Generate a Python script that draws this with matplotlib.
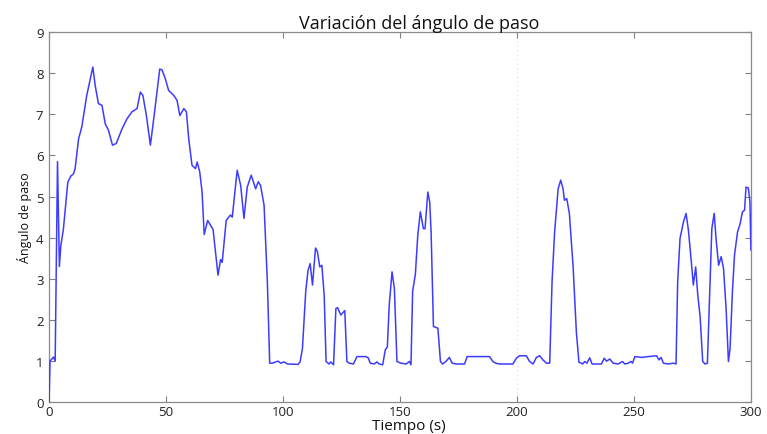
import matplotlib
matplotlib.use("Agg")
import matplotlib.pyplot as plt

# datos
tiempo = [
    0.0, 0.4, 1.9, 2.6, 3.6, 4.4, 5.0, 6.1, 8.0, 9.3,
    10.4, 11.1, 12.6, 14.0, 16.1, 18.7, 19.7, 21.1, 22.6, 24.0,
    25.4, 27.1, 28.7, 31.2, 33.3, 35.4, 37.6, 39.0, 40.1, 41.6,
    43.3, 45.1, 47.3, 48.3, 49.7, 51.1, 53.3, 54.7, 55.9, 57.6,
    58.7, 59.7, 61.1, 62.6, 63.3, 64.4, 65.4, 66.3, 67.8, 70.1,
    72.2, 73.3, 74.0, 75.7, 77.5, 78.3, 80.4, 81.9, 83.3, 84.7,
    86.4, 88.3, 89.4, 90.4, 91.9, 93.3, 94.3, 95.4, 97.9, 99.0,
    100.4, 101.9, 106.4, 107.3, 108.3, 109.7, 110.7, 111.6, 112.6, 113.9,
    114.7, 115.7, 116.6, 117.6, 118.4, 119.7, 120.4, 121.6, 122.6, 123.3,
    124.7, 125.9, 126.4, 127.3, 128.3, 130.1, 131.6, 135.4, 136.4, 137.3,
    139.0, 140.1, 141.1, 142.6, 143.7, 144.6, 145.4, 146.6, 147.6, 148.7,
    150.4, 152.6, 154.0, 154.7, 155.4, 156.6, 157.6, 158.7, 160.0, 160.7,
    161.9, 162.7, 163.3, 164.3, 166.2, 167.3, 168.2, 169.6, 171.1, 172.3,
    174.0, 177.6, 178.7, 183.3, 188.3, 189.7, 190.9, 192.6, 198.3, 199.7,
    201.1, 204.0, 205.4, 206.9, 208.3, 209.7, 211.1, 212.6, 214.0, 215.0,
    216.1, 217.6, 218.7, 219.7, 220.3, 221.3, 222.4, 224.0, 225.4, 226.5,
    227.5, 228.0, 229.0, 229.9, 231.1, 232.1, 236.1, 237.3, 238.3, 239.7,
    241.1, 243.3, 245.1, 246.1, 247.6, 248.7, 249.4, 250.4, 253.3, 256.1,
    259.7, 260.7, 261.6, 262.6, 264.7, 266.9, 268.0, 268.7, 269.7, 271.2,
    272.3, 273.3, 274.4, 275.4, 276.4, 277.3, 278.3, 279.4, 280.4, 281.4,
    282.3, 283.3, 284.3, 285.1, 286.2, 287.3, 288.3, 289.4, 290.4, 291.1,
    292.1, 293.0, 294.3, 295.4, 296.4, 297.3, 297.9, 298.9, 299.6, 300.0,
]
angulo = [
    0.0, 1.0, 1.1, 1.0, 5.85, 3.3, 3.8, 4.2, 5.35, 5.5,
    5.55, 5.67, 6.4, 6.7, 7.46, 8.15, 7.7, 7.26, 7.22, 6.77,
    6.61, 6.25, 6.29, 6.65, 6.89, 7.06, 7.14, 7.54, 7.46, 6.97,
    6.25, 7.06, 8.1, 8.08, 7.86, 7.58, 7.46, 7.34, 6.97, 7.14,
    7.06, 6.4, 5.76, 5.68, 5.84, 5.6, 5.11, 4.08, 4.42, 4.2,
    3.09, 3.47, 3.4, 4.42, 4.55, 4.5, 5.64, 5.27, 4.47, 5.23,
    5.52, 5.19, 5.36, 5.27, 4.79, 2.93, 0.95, 0.95, 1.0, 0.95,
    0.98, 0.93, 0.92, 0.98, 1.31, 2.69, 3.21, 3.37, 2.85, 3.75,
    3.66, 3.29, 3.33, 2.6, 0.99, 0.93, 0.98, 0.91, 2.28, 2.3,
    2.12, 2.2, 2.23, 0.99, 0.95, 0.93, 1.11, 1.11, 1.08, 0.95,
    0.93, 0.98, 0.93, 0.91, 1.27, 1.35, 2.36, 3.17, 2.77, 0.99,
    0.95, 0.93, 0.99, 0.91, 2.69, 3.13, 4.06, 4.63, 4.22, 4.22,
    5.11, 4.87, 4.14, 1.84, 1.8, 0.99, 0.93, 0.99, 1.09, 0.95,
    0.93, 0.93, 1.11, 1.11, 1.11, 0.99, 0.95, 0.93, 0.93, 1.07,
    1.13, 1.13, 0.99, 0.93, 1.09, 1.13, 1.03, 0.95, 0.95, 2.93,
    4.14, 5.19, 5.4, 5.19, 4.91, 4.95, 4.59, 3.3, 1.7, 0.97,
    0.95, 0.93, 0.99, 0.95, 1.08, 0.93, 0.93, 1.07, 1.0, 1.05,
    0.95, 0.93, 0.99, 0.93, 0.95, 0.99, 0.95, 1.11, 1.09, 1.11,
    1.13, 1.03, 1.09, 0.95, 0.93, 0.95, 0.93, 2.93, 3.98, 4.39,
    4.59, 4.18, 3.5, 2.85, 3.29, 2.6, 2.08, 0.99, 0.93, 0.95,
    2.52, 4.22, 4.59, 3.98, 3.33, 3.54, 3.25, 2.28, 0.99, 1.31,
    2.69, 3.58, 4.14, 4.34, 4.63, 4.67, 5.23, 5.21, 4.87, 3.7,
]

x_ticks = [0, 50, 100, 150, 200, 250, 300]
y_ticks = list(range(10))
grid_x = 200  # línea tenue visible en el original

plt.rcParams["font.family"] = ["Open Sans", "DejaVu Sans"]

fig = plt.figure(figsize=(7.67, 4.35), dpi=100, facecolor="white")
ax = fig.add_axes([0.064, 0.073, 0.915, 0.851])

ax.axvline(grid_x, color="#d8d8d8", linestyle=(0, (1, 3)), linewidth=0.8, zorder=1)
ax.plot(tiempo, angulo, color="#3c3cff", linewidth=1.1, zorder=3)

ax.set_xlim(0, 300)
ax.set_ylim(0, 9)
ax.set_xticks(x_ticks)
ax.set_yticks(y_ticks)
ax.tick_params(direction="in", top=True, right=True, length=4, width=0.8,
               color="#808080", labelsize=9.5, labelcolor="#222222")
ax.tick_params(axis="x", pad=2)
ax.tick_params(axis="y", pad=4)
for sp in ax.spines.values():
    sp.set_color("#8a8a8a")
    sp.set_linewidth(0.9)

ax.set_title("Variación del ángulo de paso", fontsize=13, pad=3, x=0.528, color="#111111")
ax.set_xlabel("Tiempo (s)", fontsize=11, labelpad=0, x=0.513, color="#111111")
ax.set_ylabel("Ángulo de paso", fontsize=9, labelpad=3, color="#111111")

fig.savefig("out.png", dpi=100, facecolor="white")
